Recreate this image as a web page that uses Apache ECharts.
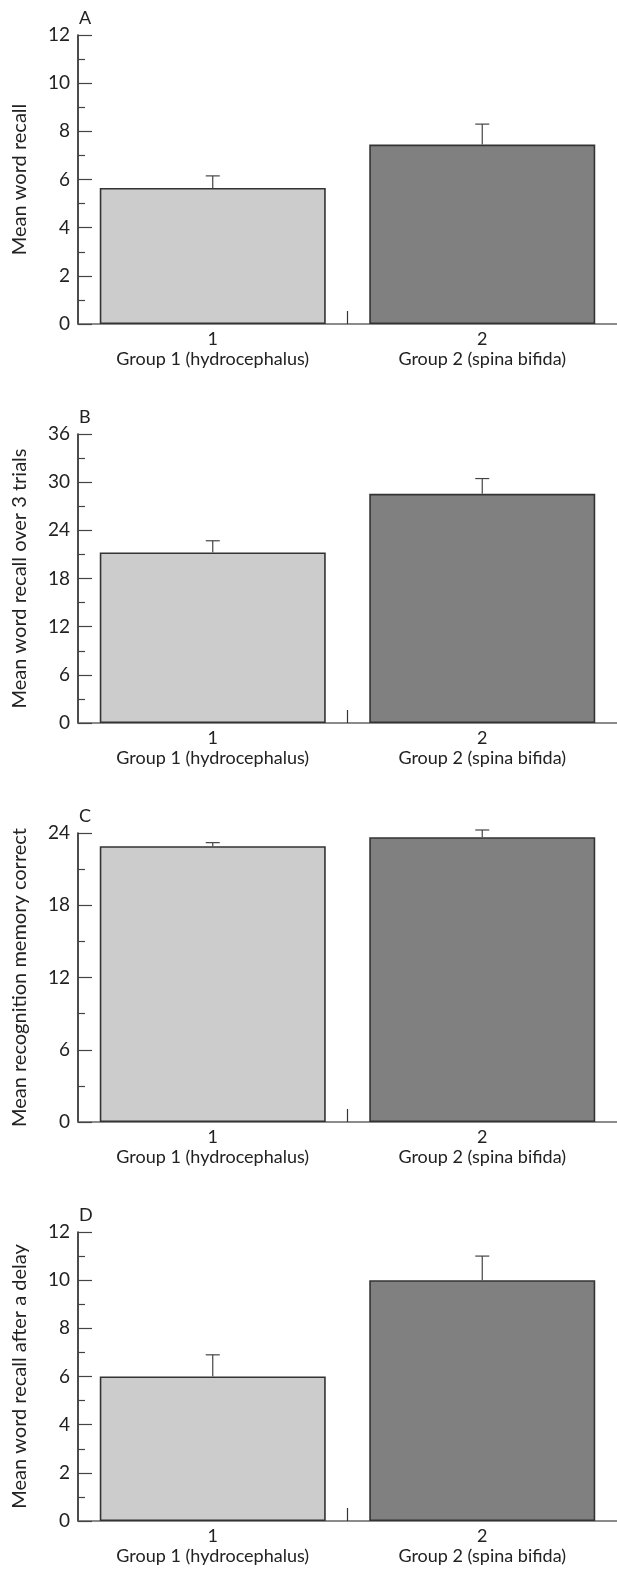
<!DOCTYPE html>
<html>
<head>
<meta charset="utf-8">
<script src="https://cdn.jsdelivr.net/npm/echarts@6/dist/echarts.min.js"></script>
<style>
html,body{margin:0;padding:0;background:#fff;}
#chart{width:617px;height:1578px;}
</style>
</head>
<body>
<div id="chart"></div>
<script>
const categories = ['1', '2'];
const groupNames = ['Group 1 (hydrocephalus)', 'Group 2 (spina bifida)'];
const panelLetters = ['A', 'B', 'C', 'D'];
const yNames = ['Mean word recall', 'Mean word recall over 3 trials', 'Mean recognition memory correct', 'Mean word recall after a delay'];
const meansA = [5.65, 7.45];
const errA = [0.5, 0.85];
const meansB = [21.25, 28.55];
const errB = [1.45, 1.9];
const meansC = [22.9, 23.65];
const errC = [0.3, 0.6];
const meansD = [6.0, 10.0];
const errD = [0.9, 1.0];
const yMax = [12, 36, 24, 12];
const yInterval = [2, 6, 6, 2];

const means = [meansA, meansB, meansC, meansD];
const errs = [errA, errB, errC, errD];
const barColors = ['#cccccc', '#808080'];
const FONT = 'Lato';
const TXT = '#222';

const chart = echarts.init(document.getElementById('chart'), null, {renderer: 'canvas'});
const grids = [], xAxes = [], yAxes = [], series = [], titles = [];
for (let i = 0; i < 4; i++) {
  const top = 35 + 399 * i;
  grids.push({left: 78, width: 543, top: top, height: 289, containLabel: false});
  titles.push({text: panelLetters[i], left: 79, top: top - 26, padding: 0,
    textStyle: {fontFamily: FONT, fontSize: 18, fontWeight: 'normal', color: TXT}});
  xAxes.push({
    type: 'category', gridIndex: i, data: categories, boundaryGap: true,
    axisLine: {lineStyle: {color: '#666', width: 1.5}},
    axisTick: {show: false},
    axisLabel: {
      margin: 5, fontFamily: FONT, fontSize: 18, color: TXT, lineHeight: 20,
      formatter: (v, idx) => v + '\n' + groupNames[idx]
    }
  });
  // helper axis only for the single tick at the boundary between the two groups
  xAxes.push({
    type: 'value', gridIndex: i, min: 0, max: categories.length, position: 'bottom',
    axisLine: {show: false},
    axisLabel: {show: false},
    splitLine: {show: false},
    axisTick: {show: true, inside: true, length: 13, customValues: [1], lineStyle: {color: '#333', width: 1.2}}
  });
  yAxes.push({
    type: 'value', gridIndex: i, min: 0, max: yMax[i], interval: yInterval[i],
    name: yNames[i], nameLocation: 'middle', nameGap: 48, nameRotate: 90,
    nameTextStyle: {fontFamily: FONT, fontSize: 20, color: TXT},
    axisLine: {show: true, lineStyle: {color: '#111', width: 1.5}},
    axisTick: {show: true, inside: true, length: 14, lineStyle: {color: '#444', width: 1.2}},
    minorTick: {show: true, splitNumber: 2, length: 7, lineStyle: {color: '#444', width: 1.2}},
    splitLine: {show: false},
    axisLabel: {margin: 8, fontFamily: FONT, fontSize: 19, color: TXT}
  });
  series.push({
    type: 'bar', xAxisIndex: 2 * i, yAxisIndex: i, barWidth: 226,
    data: means[i].map((v, k) => ({value: v, itemStyle: {color: barColors[k]}})),
    itemStyle: {borderColor: '#333', borderWidth: 1.6},
    emphasis: {disabled: true}, z: 2
  });
  series.push({
    type: 'custom', xAxisIndex: 2 * i, yAxisIndex: i, clip: false, z: 3,
    data: means[i].map((v, k) => [k, v, v + errs[i][k]]),
    renderItem: function (params, api) {
      const base = api.coord([api.value(0), api.value(1)]);
      const tip = api.coord([api.value(0), api.value(2)]);
      const hw = 7;
      return {
        type: 'group',
        children: [
          {type: 'line', shape: {x1: base[0], y1: base[1], x2: tip[0], y2: tip[1]},
            style: {stroke: '#444', lineWidth: 1.2}},
          {type: 'line', shape: {x1: tip[0] - hw, y1: tip[1], x2: tip[0] + hw, y2: tip[1]},
            style: {stroke: '#444', lineWidth: 1.2}}
        ]
      };
    }
  });
}
chart.setOption({
  animation: false,
  backgroundColor: '#fff',
  title: titles,
  grid: grids,
  xAxis: xAxes,
  yAxis: yAxes,
  series: series
});
</script>
</body>
</html>
